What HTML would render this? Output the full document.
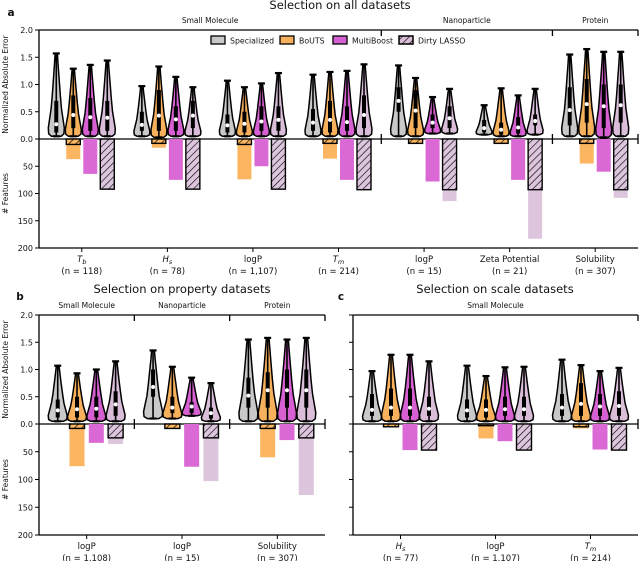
<!DOCTYPE html>
<html><head><meta charset="utf-8"><style>
body{margin:0;background:#fff}
svg{display:block;font-family:"DejaVu Sans","Liberation Sans",sans-serif}
</style></head><body>
<svg id="fig" width="640" height="561" viewBox="0 0 640 561">
<defs>
<pattern id="hatch" width="5" height="5" patternUnits="userSpaceOnUse" patternTransform="rotate(45)">
<line x1="0" y1="0" x2="0" y2="5" stroke="#000" stroke-width="1.3"/>
</pattern>
</defs>
</svg>
<script>
// ---------- data ----------
const methods = ["Specialized","BoUTS","MultiBoost","Dirty LASSO"];
// Panel a
const aGroups = ["Small Molecule","Nanoparticle","Protein"];
const aCats = ["T_b","H_s","logP","T_m","logP","Zeta Potential","Solubility"];
const aN = ["n = 118","n = 78","n = 1,107","n = 214","n = 15","n = 21","n = 307"];
const aCatGroup = [0,0,0,0,1,1,2];
const aMin = [[0.05,0.05,0.05,0.05],[0.05,0.03,0.05,0.05],[0.05,0.05,0.05,0.05],[0.05,0.05,0.05,0.05],[0.05,0.05,0.1,0.1],[0.08,0.05,0.05,0.08],[0.05,0.05,0.03,0.05]];
const aQ1 = [[0.12,0.2,0.15,0.15],[0.15,0.15,0.15,0.2],[0.12,0.12,0.15,0.15],[0.15,0.12,0.15,0.2],[0.5,0.2,0.2,0.2],[0.12,0.08,0.1,0.25],[0.25,0.3,0.2,0.3]];
const aMed = [[0.27,0.44,0.40,0.39],[0.26,0.43,0.36,0.43],[0.25,0.28,0.32,0.35],[0.30,0.35,0.31,0.44],[0.70,0.52,0.30,0.38],[0.20,0.17,0.21,0.33],[0.53,0.64,0.60,0.62]];
const aQ3 = [[0.7,0.8,0.75,0.7],[0.5,0.9,0.6,0.7],[0.45,0.5,0.6,0.6],[0.55,0.7,0.6,0.8],[0.95,0.9,0.45,0.6],[0.35,0.3,0.4,0.45],[0.95,1.1,1.0,1.0]];
const aMax = [[1.57,1.29,1.36,1.44],[0.97,1.33,1.14,0.95],[1.07,0.95,1.02,1.21],[1.18,1.23,1.25,1.37],[1.35,1.12,0.77,0.92],[0.62,0.93,0.80,0.92],[1.55,1.65,1.60,1.60]];
const aBox = [[0,10,0,92],[0,8,0,92],[0,10,0,92],[0,8,0,93],[0,8,0,93],[0,8,0,93],[0,8,0,93]];
const aBar = [[0,37,64,93],[0,16,75,92],[0,74,50,92],[0,36,75,93],[0,8,78,114],[0,8,75,183],[0,45,60,108]];
// Panel b
const bGroups = ["Small Molecule","Nanoparticle","Protein"];
const bCats = ["logP","logP","Solubility"];
const bN = ["n = 1,108","n = 15","n = 307"];
const bCatGroup = [0,1,2];
const bMin = [[0.05,0.05,0.05,0.05],[0.1,0.1,0.15,0.05],[0.05,0.05,0.05,0.05]];
const bQ1 = [[0.12,0.12,0.12,0.15],[0.5,0.2,0.2,0.1],[0.3,0.3,0.3,0.3]];
const bMed = [[0.25,0.27,0.28,0.36],[0.68,0.30,0.32,0.20],[0.52,0.62,0.62,0.62]];
const bQ3 = [[0.45,0.5,0.5,0.6],[1.0,0.5,0.4,0.3],[0.85,0.95,1.0,1.0]];
const bMax = [[1.07,0.93,1.00,1.15],[1.35,1.05,0.85,0.75],[1.55,1.58,1.55,1.58]];
const bBox = [[0,8,0,25],[0,8,0,25],[0,8,0,25]];
const bBar = [[0,76,34,36],[0,8,77,103],[0,60,29,128]];
// Panel c
const cGroups = ["Small Molecule"];
const cCats = ["H_s","logP","T_m"];
const cN = ["n = 77","n = 1,107","n = 214"];
const cCatGroup = [0,0,0];
const cMin = [[0.05,0.05,0.05,0.05],[0.05,0.05,0.05,0.05],[0.05,0.05,0.05,0.05]];
const cQ1 = [[0.15,0.15,0.15,0.15],[0.12,0.12,0.15,0.15],[0.15,0.15,0.15,0.15]];
const cMed = [[0.26,0.30,0.30,0.28],[0.25,0.26,0.27,0.27],[0.30,0.37,0.32,0.33]];
const cQ3 = [[0.55,0.65,0.65,0.5],[0.45,0.45,0.5,0.5],[0.55,0.75,0.55,0.6]];
const cMax = [[0.97,1.27,1.27,1.15],[1.07,0.88,1.04,1.05],[1.18,1.08,0.97,1.03]];
const cBox = [[0,5,0,47],[0,3,0,47],[0,5,0,47]];
const cBar = [[0,5,47,47],[0,26,31,47],[0,8,46,47]];
const errTicks = ["0.0","0.5","1.0","1.5","2.0"];
const featTicks = ["50","100","150","200"];

// ---------- drawing ----------
const NS="http://www.w3.org/2000/svg";
const svg=document.getElementById('fig');
const vColors=["#c9c9c9","#f7b05c","#d660d1","#d9bdd9"];
const barColors=["#ccc","#fcb661","#da69d5","#ddc6dd"];
function el(tag,attrs,parent){const e=document.createElementNS(NS,tag);for(const k in attrs)e.setAttribute(k,attrs[k]);(parent||svg).appendChild(e);return e;}
function txt(s,x,y,size,anchor,parent,extra){const t=el('text',Object.assign({x:x,y:y,'font-size':size,'text-anchor':anchor||'middle',fill:'#111'},extra||{}),parent);return t;}
function catLabel(g,s,x,y){
  const t=txt('',x,y,8.5,'middle',g);
  const m=s.match(/^([A-Z])_([a-z])$/);
  if(m){const a=el('tspan',{'font-style':'italic'},t);a.textContent=m[1];const b=el('tspan',{'font-style':'italic','font-size':6.5,dy:2},t);b.textContent=m[2];}
  else t.textContent=s;
  return t;
}
const profT=[0,0.03,0.1,0.2,0.33,0.5,0.7,0.88,1];
const profW=[0.6,0.95,1,0.85,0.65,0.5,0.35,0.22,0.14];

function panel(P){
  const g=el('g',{});
  
  
  const ey=v=>P.y0-v*P.ue, fy=v=>P.y0+v*P.uf;
  const cw=(P.x1-P.x0)/P.cats.length;
  const cx=i=>P.x0+cw*(i+0.5);
  const ti=txt(P.title,P.titleX,P.titleY,11.5,'middle',g);ti.textContent=P.title;
  
  const lt=txt(P.letter,P.letterX,P.titleY+7,10.5,'middle',g,{'font-weight':'bold'});lt.textContent=P.letter;
  
  el('line',{x1:P.x0,y1:P.yTop,x2:P.x0,y2:P.yBot,stroke:'#000','stroke-width':1.3},g);
  el('line',{x1:P.x0,y1:P.yBot,x2:P.x1,y2:P.yBot,stroke:'#000','stroke-width':1.3},g);
  el('line',{x1:P.x0,y1:P.yTop,x2:P.x1,y2:P.yTop,stroke:'#000','stroke-width':1.3},g);
  el('line',{x1:P.x0,y1:P.y0,x2:P.x1,y2:P.y0,stroke:'#000','stroke-width':1.3},g);
  errTicks.forEach((s,i)=>{const y=ey(i*0.5);el('line',{x1:P.x0-4,y1:y,x2:P.x0,y2:y,stroke:'#000'},g);
    if(P.labels){const t=txt(s,P.x0-6,y+3,8,'end',g);t.textContent=s;}});
  featTicks.forEach((s,i)=>{const y=fy((i+1)*50);el('line',{x1:P.x0-4,y1:y,x2:P.x0,y2:y,stroke:'#000'},g);
    if(P.labels){const t=txt(s,P.x0-6,y+3,8,'end',g);t.textContent=s;}});
  if(P.labels){
    const a1=txt('',8,ey(1),7.5,'middle',g,{transform:'rotate(-90 8 '+ey(1)+')'});a1.textContent='Normalized Absolute Error';
    
    const a2=txt('',8,fy(100),7.5,'middle',g,{transform:'rotate(-90 8 '+fy(100)+')'});a2.textContent='# Features';
    
  }
  const seps=[];
  for(let i=1;i<P.cats.length;i++) if(P.catGroup[i]!==P.catGroup[i-1]) seps.push(P.x0+cw*i);
  seps.concat([P.x1]).forEach(x=>{
    el('line',{x1:x,y1:P.yTop,x2:x,y2:P.yTop+6,stroke:'#000','stroke-width':1.3},g);
    el('line',{x1:x,y1:P.y0-5,x2:x,y2:P.y0+5,stroke:'#000','stroke-width':1.3},g);
  });
  P.groups.forEach((name,gi)=>{
    const idx=P.catGroup.map((v,i)=>v===gi?i:-1).filter(i=>i>=0);
    const xm=(P.x0+cw*idx[0]+P.x0+cw*(idx[idx.length-1]+1))/2;
    const t=txt(name,xm,P.yTop-7,7.5,'middle',g);t.textContent=name;
    
  });
  P.cats.forEach((c,i)=>{
    el('line',{x1:cx(i),y1:P.yBot,x2:cx(i),y2:P.yBot+4,stroke:'#000'},g);
    const t=catLabel(g,c,cx(i),P.yBot+14);
    
    const n=txt('',cx(i),P.yBot+26,8.5,'middle',g);n.textContent='('+P.n[i]+')';
    for(let m=0;m<4;m++){
      const x=cx(i)+(m-1.5)*P.sp;
      const bv=P.bar[i][m], bx=P.box[i][m];
      if(bv>0){const r=el('rect',{x:x-P.bw/2,y:P.y0,width:P.bw,height:fy(bv)-P.y0,fill:barColors[m]},g);
        }
      if(bx>0){
        el('rect',{x:x-P.bw/2,y:P.y0,width:P.bw,height:fy(bx)-P.y0,fill:barColors[m]},g);
        const r=el('rect',{x:x-P.bw/2,y:P.y0,width:P.bw,height:fy(bx)-P.y0,fill:'url(#hatch)',stroke:'#000','stroke-width':1.4},g);
        }
      const lo=P.min[i][m], hi=P.max[i][m], hw=P.hw;
      let L=[],R=[];
      profT.forEach((t,k)=>{const y=ey(lo+(hi-lo)*t);const w=hw*profW[k];L.push([x-w,y]);R.push([x+w,y]);});
      const pts=L.concat(R.reverse()).map(p=>p[0].toFixed(1)+','+p[1].toFixed(1)).join(' ');
      const v=el('polygon',{points:pts,fill:vColors[m],stroke:'#000','stroke-width':1.5,'stroke-linejoin':'round'},g);
      
      el('line',{x1:x,y1:ey(lo),x2:x,y2:ey(hi),stroke:'#000','stroke-width':1.6},g);
      el('line',{x1:x-3.5,y1:ey(hi),x2:x+3.5,y2:ey(hi),stroke:'#000','stroke-width':2.2},g);
      el('line',{x1:x-3.5,y1:ey(lo),x2:x+3.5,y2:ey(lo),stroke:'#000','stroke-width':2.2},g);
      el('rect',{x:x-2,y:ey(P.q3[i][m]),width:4,height:ey(P.q1[i][m])-ey(P.q3[i][m]),fill:'#000'},g);
      const d=el('circle',{cx:x,cy:ey(P.med[i][m]),r:2,fill:'#fff'},g);
      
    }
  });
  return g;
}
panel({name:'panel-a',title:'Selection on all datasets',titleX:340,titleY:9,letter:'a',letterX:11,labels:true,
  x0:39,x1:638,yTop:30,y0:139,yBot:248,ue:54.5,uf:0.545,sp:17,bw:14,hw:8,
  groups:aGroups,cats:aCats,n:aN,catGroup:aCatGroup,min:aMin,q1:aQ1,med:aMed,q3:aQ3,max:aMax,box:aBox,bar:aBar});
panel({name:'panel-b',title:'Selection on property datasets',titleX:182,titleY:293,letter:'b',letterX:20,labels:true,
  x0:39,x1:325,yTop:315,y0:424,yBot:535,ue:54.5,uf:0.555,sp:19.3,bw:15,hw:9.5,
  groups:bGroups,cats:bCats,n:bN,catGroup:bCatGroup,min:bMin,q1:bQ1,med:bMed,q3:bQ3,max:bMax,box:bBox,bar:bBar});
panel({name:'panel-c',title:'Selection on scale datasets',titleX:495,titleY:293,letter:'c',letterX:341,labels:false,
  x0:353,x1:638,yTop:315,y0:424,yBot:535,ue:54.5,uf:0.555,sp:19,bw:15,hw:9.5,
  groups:cGroups,cats:cCats,n:cN,catGroup:cCatGroup,min:cMin,q1:cQ1,med:cMed,q3:cQ3,max:cMax,box:cBox,bar:cBar});
const lg=el('g',{});


const lx=[211,280,333,399];
methods.forEach((m,i)=>{
  const r=el('rect',{x:lx[i],y:36,width:14,height:8,fill:vColors[i],stroke:'#000','stroke-width':1.3},lg);
  
  if(i===3)el('rect',{x:lx[i],y:36,width:14,height:8,fill:'url(#hatch)',stroke:'#000','stroke-width':1.3},lg);
  const t=txt('',lx[i]+19,43.5,7.8,'start',lg);t.textContent=m;
  
});
</script>
</body></html>
